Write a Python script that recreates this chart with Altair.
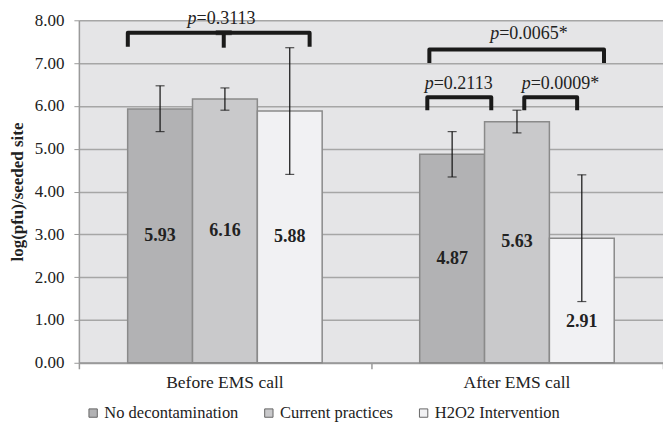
import altair as alt
import pandas as pd

groups = ["Before EMS call", "After EMS call"]
series = ["No decontamination", "Current practices", "H2O2 Intervention"]
means = [[5.93, 6.16, 5.88], [4.87, 5.63, 2.91]]
err_lo = [[5.40, 5.90, 4.40], [4.34, 5.37, 1.43]]
err_hi = [[6.47, 6.42, 7.36], [5.40, 5.90, 4.39]]
label_y = [[2.965, 3.08, 2.94], [2.435, 2.815, 0.95]]
colors = ["#b2b2b4", "#c9c9cb", "#f1f1f3"]

# significance brackets (data units)
br_x1 = [0.1675, 1.200, 1.193, 1.525]
br_x2 = [0.790, 1.798, 1.412, 1.706]
br_top = [7.71, 7.32, 6.20, 6.20]
br_bot = [7.38, 7.00, 5.90, 5.90]
p_text = ["=0.3113", "=0.0065*", "=0.2113", "=0.0009*"]
p_anchor = [0.403, 1.439, 1.215, 1.547]
p_y = [8.02, 7.67, 6.52, 6.52]
mid_x = [0.496]
mid_top = [7.71]
mid_bot = [7.36]

BW = 0.222
SERIF = "Liberation Serif"

rows = []
for gi, g in enumerate(groups):
    for si, s in enumerate(series):
        c = gi + 0.5 + (si - 1) * BW
        rows.append(dict(group=g, series=s, mean=means[gi][si], lo=err_lo[gi][si],
                         hi=err_hi[gi][si], ly=label_y[gi][si],
                         xc=c, x0=c - BW / 2, x1=c + BW / 2,
                         lab=f"{means[gi][si]:.2f}"))
df = pd.DataFrame(rows)

xs = alt.Scale(domain=[0, 2], nice=False, zero=False)
ys = alt.Scale(domain=[0, 8], nice=False)

base = alt.Chart(df)

bars = base.mark_bar(stroke="#8a8a8a", strokeWidth=1.5).encode(
    x=alt.X("x0:Q", scale=xs,
            axis=alt.Axis(values=[0, 1, 2], labels=False, title=None, grid=False,
                          domainColor="#9a9a9a", domainWidth=2, tickColor="#9a9a9a",
                          tickSize=6, tickWidth=1.5)),
    x2="x1:Q",
    y=alt.Y("mean:Q", scale=ys,
            axis=alt.Axis(values=list(range(9)), format=".2f", title="log(pfu)/seeded site",
                          grid=True, gridColor="#a6a6a6", gridWidth=1.5,
                          domainColor="#9a9a9a", domainWidth=1.5, tickColor="#9a9a9a",
                          tickSize=5, labelPadding=10, labelFont=SERIF, labelFontSize=17,
                          labelColor="#222222", titleFont=SERIF, titleFontSize=17,
                          titleFontWeight="bold", titleColor="#222222", titlePadding=8)),
    y2=alt.datum(0),
    fill=alt.Fill("series:N", scale=alt.Scale(domain=series, range=colors),
                  legend=alt.Legend(title=None, orient="none", direction="horizontal",
                                    legendX=6, legendY=385, symbolType="square",
                                    symbolSize=70, symbolStrokeColor="#666666",
                                    symbolStrokeWidth=1, labelFont=SERIF, labelFontSize=16.5,
                                    labelColor="#222222", columnPadding=22, symbolOffset=0,
                                    labelOffset=3)),
)

err = base.mark_rule(color="#111111", strokeWidth=1.2).encode(
    x="xc:Q", y="lo:Q", y2="hi:Q")
cap_lo = base.mark_tick(color="#111111", orient="horizontal", size=9, thickness=1.2).encode(
    x="xc:Q", y="lo:Q")
cap_hi = base.mark_tick(color="#111111", orient="horizontal", size=9, thickness=1.2).encode(
    x="xc:Q", y="hi:Q")

vals = base.mark_text(font=SERIF, fontSize=18, fontWeight="bold", color="#222222",
                      baseline="middle").encode(x="xc:Q", y="ly:Q", text="lab:N")

cat_df = pd.DataFrame({"g": groups, "x": [0.5, 1.5]})
cats = alt.Chart(cat_df).mark_text(font=SERIF, fontSize=17.5, color="#222222",
                                   baseline="middle").encode(
    x="x:Q", y=alt.value(363), text="g:N")

brows = []
for i in range(len(br_x1)):
    pts = [(br_x1[i], br_bot[i]), (br_x1[i], br_top[i]), (br_x2[i], br_top[i]), (br_x2[i], br_bot[i])]
    for k, (px, py) in enumerate(pts):
        brows.append(dict(id=i, o=k, bx=px, by=py))
bdf = pd.DataFrame(brows)
brackets = alt.Chart(bdf).mark_line(color="#1a1a1a", strokeWidth=4, strokeJoin="round",
                                    strokeCap="butt").encode(
    x="bx:Q", y="by:Q", detail="id:N", order="o:Q")

mdf = pd.DataFrame({"x": mid_x, "t": mid_top, "b": mid_bot})
mid_rule = alt.Chart(mdf).mark_rule(color="#1a1a1a", strokeWidth=4).encode(
    x="x:Q", y="t:Q", y2="b:Q")
mid_head = alt.Chart(mdf).mark_tick(color="#1a1a1a", orient="horizontal", size=16,
                                    thickness=5).encode(x="x:Q", y="t:Q")

pdf = pd.DataFrame({"txt": p_text, "x": p_anchor, "y": p_y})
p_it = alt.Chart(pdf).mark_text(font=SERIF, fontSize=18, fontStyle="italic", color="#222222",
                                align="right", baseline="middle", text="p").encode(
    x="x:Q", y="y:Q")
p_rest = alt.Chart(pdf).mark_text(font=SERIF, fontSize=18, color="#222222",
                                  align="left", baseline="middle").encode(
    x="x:Q", y="y:Q", text="txt:N")

chart = alt.layer(bars, err, cap_lo, cap_hi, vals, cats, brackets, mid_rule, mid_head,
                  p_it, p_rest).properties(
    width=585, height=343,
    autosize=alt.AutoSizeParams(type="none"),
    padding={"left": 71, "top": 12, "right": 0, "bottom": 59},
    background="white",
).configure_view(fill="#e5e5e7", stroke=None).configure_axis(labelFont=SERIF).configure_legend(
    labelFont=SERIF)

chart.save("out.html", embed_options={"renderer": "svg", "actions": False})
